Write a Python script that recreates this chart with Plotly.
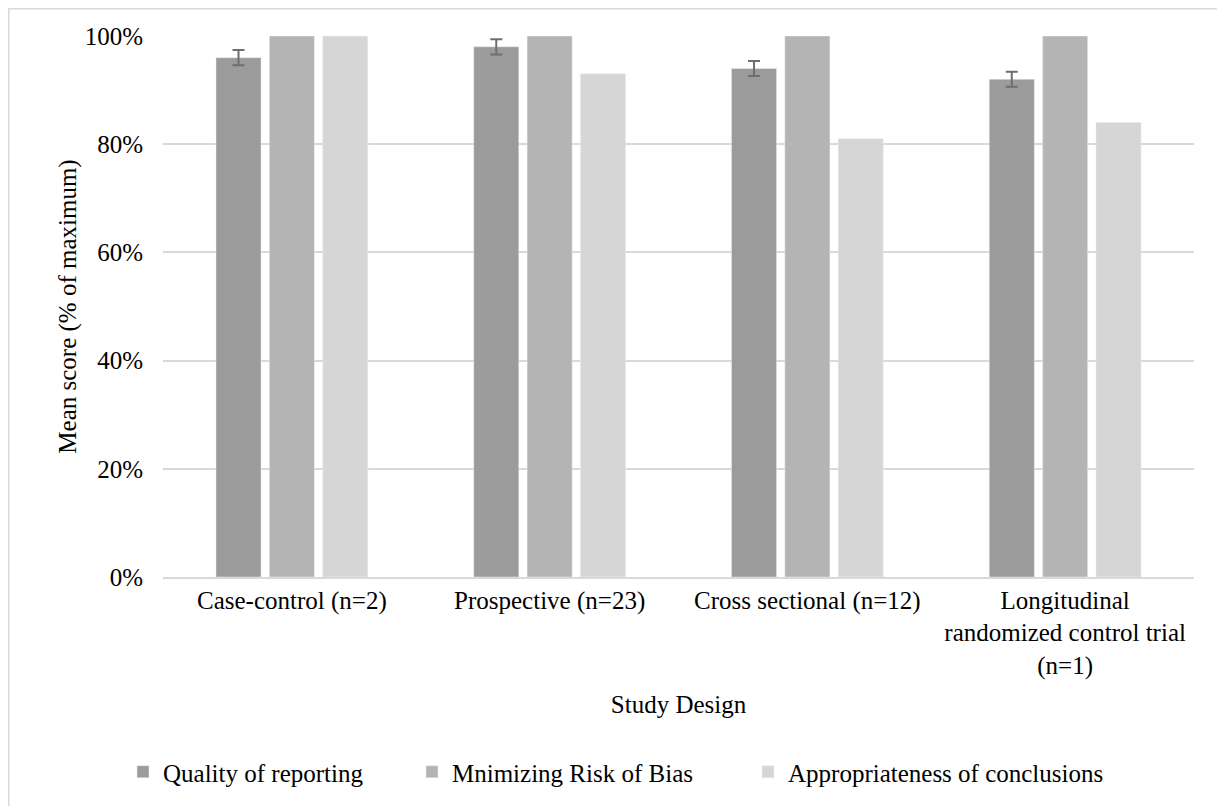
import plotly.graph_objects as go

categories = ["Case-control (n=2)", "Prospective (n=23)", "Cross sectional (n=12)",
              "Longitudinal<br>randomized control trial<br>(n=1)"]
quality = [96, 98, 94, 92]
quality_err = [1.4, 1.4, 1.4, 1.4]
risk = [100, 100, 100, 100]
conclusions = [100, 93, 81, 84]
tick_vals = [0, 20, 40, 60, 80, 100]
tick_text = ["0%", "20%", "40%", "60%", "80%", "100%"]

font = "Liberation Serif, Times New Roman, serif"
fs = 25

fig = go.Figure()
fig.add_trace(go.Bar(name="Quality of reporting", x=categories, y=quality,
                     marker_color="#9b9b9b", legend="legend",
                     error_y=dict(type="data", array=quality_err, color="#6e6e6e",
                                  thickness=2, width=6)))
fig.add_trace(go.Bar(name="Mnimizing Risk of Bias", x=categories, y=risk,
                     marker_color="#b4b4b4", legend="legend2"))
fig.add_trace(go.Bar(name="Appropriateness of conclusions", x=categories, y=conclusions,
                     marker_color="#d6d6d6", legend="legend3"))

def leg(xpx):
    return dict(xref="container", yref="container", x=xpx / 1225, xanchor="left",
                y=1 - 764 / 806, yanchor="middle", orientation="h",
                font=dict(family=font, size=fs), bgcolor="rgba(0,0,0,0)")

fig.update_layout(
    width=1225, height=806,
    paper_bgcolor="white", plot_bgcolor="white",
    font=dict(family=font, size=fs, color="#000000"),
    margin=dict(l=155, r=39, t=28, b=237),
    barmode="group", bargap=0.379, bargroupgap=0.156,
    showlegend=True,
    legend=leg(115), legend2=leg(404), legend3=leg(740),
    xaxis=dict(title=dict(text="Study Design", font=dict(family=font, size=fs), standoff=17),
               showline=True, linecolor="#d9d9d9", linewidth=1.5, ticks="",
               tickfont=dict(family=font, size=fs), automargin=False),
    yaxis=dict(title=dict(text="Mean score (% of maximum)", font=dict(family=font, size=fs), standoff=0),
               range=[0, 100], tickvals=tick_vals, ticktext=tick_text,
               ticklabelstandoff=19,
               showgrid=True, gridcolor="#d9d9d9", gridwidth=1.5, zeroline=False,
               tickfont=dict(family=font, size=fs), automargin=False),
    shapes=[dict(type="rect", xref="paper", yref="paper",
                 x0=-0.1496, x1=1.0281, y0=-0.427, y1=1.0504,
                 line=dict(color="#d9d9d9", width=1.5), fillcolor="rgba(0,0,0,0)",
                 layer="below")],
)

fig.write_html("out.html")
